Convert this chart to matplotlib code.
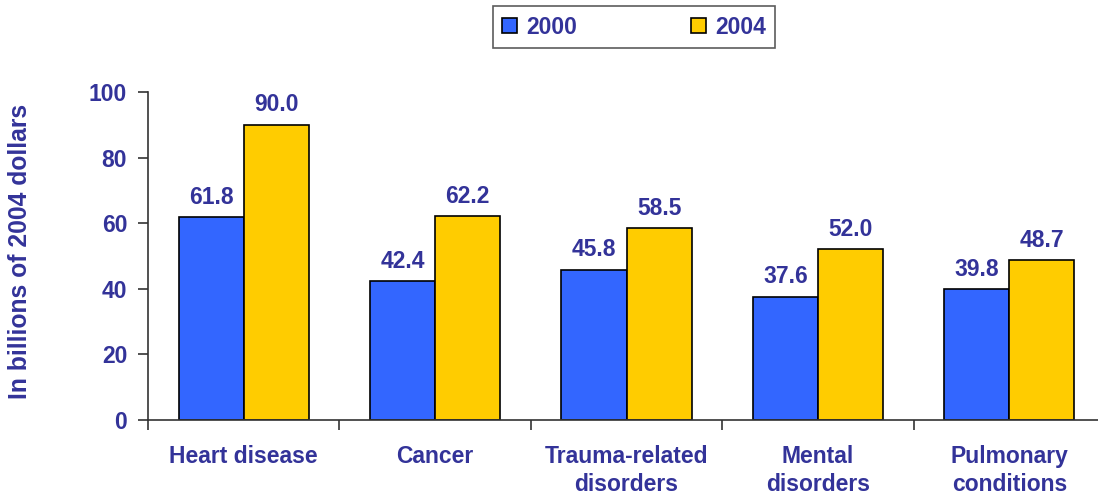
import numpy as np
import matplotlib.pyplot as plt
from matplotlib import rcParams

rcParams['font.family'] = ['Liberation Sans', 'DejaVu Sans']
rcParams['font.weight'] = 'bold'

categories = ["Heart disease", "Cancer", "Trauma-related\ndisorders", "Mental\ndisorders", "Pulmonary\nconditions"]
series_names = ["2000", "2004"]
values_2000 = [61.8, 42.4, 45.8, 37.6, 39.8]
values_2004 = [90.0, 62.2, 58.5, 52.0, 48.7]
yticks = [0, 20, 40, 60, 80, 100]

navy = '#333399'
colors = ['#3366FF', '#FFCC00']
fs = 16.5

fig = plt.figure(figsize=(10.98, 4.96), dpi=100)
# axes slightly wider than the figure, like the original
ax = fig.add_axes([148/1098, (496-420)/496, (1105-148)/1098, (420-92)/496])

x = np.arange(len(categories))
w = 0.34
b1 = ax.bar(x - w/2, values_2000, w, color=colors[0], edgecolor='black', linewidth=1.2, label=series_names[0])
b2 = ax.bar(x + w/2, values_2004, w, color=colors[1], edgecolor='black', linewidth=1.2, label=series_names[1])

for bars in (b1, b2):
    for r in bars:
        ax.annotate(f"{r.get_height():.1f}", (r.get_x() + r.get_width()/2, r.get_height()),
                    xytext=(0, 6), textcoords='offset points', ha='center', va='bottom',
                    color=navy, fontsize=fs, fontweight='bold')

ax.set_xlim(-0.5, len(categories) - 0.5)
ax.set_ylim(0, 100)
ax.set_yticks(yticks)
ax.set_yticklabels([str(t) for t in yticks], color=navy, fontsize=fs, fontweight='bold')

# category labels, ticks at the boundaries
ax.set_xticks(np.arange(len(categories) + 1) - 0.5)
ax.set_xticklabels([])
ax.tick_params(axis='x', length=7, width=1.2, color='#333333')
ax.tick_params(axis='y', length=7, width=1.2, color='#333333', pad=8)
for i, c in enumerate(categories):
    ax.text(i, -7.5, c, ha='center', va='top', color=navy, fontsize=fs, fontweight='bold',
            transform=ax.transData, linespacing=1.3)

for s in ['top', 'right']:
    ax.spines[s].set_visible(False)
for s in ['left', 'bottom']:
    ax.spines[s].set_color('#333333')
    ax.spines[s].set_linewidth(1.2)

fig.text(20/1098, 1 - 251/496, "In billions of 2004 dollars", rotation=90, ha='center', va='center',
         color=navy, fontsize=17.8, fontweight='bold')

leg = fig.legend(handles=[b1, b2], labels=series_names, loc='center',
                 bbox_to_anchor=(634/1098, 1 - 27/496), ncol=2, frameon=True, fancybox=False,
                 edgecolor='#333333', fontsize=fs, handlelength=0.65, handleheight=0.65,
                 columnspacing=5.0, handletextpad=0.4, borderpad=0.4, borderaxespad=0)
leg.get_frame().set_linewidth(1.2)
for t in leg.get_texts():
    t.set_color(navy)
    t.set_fontweight('bold')
leg.set_bbox_to_anchor((634/1098, 1 - 27/496), transform=fig.transFigure)

fig.savefig('out.png', dpi=100)
